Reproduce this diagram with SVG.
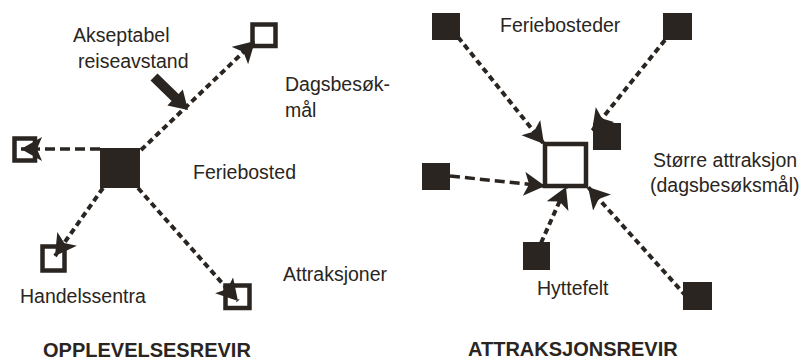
<svg xmlns="http://www.w3.org/2000/svg" width="807" height="362" viewBox="0 0 807 362">
<defs>
<style>
.t{font-family:"Liberation Sans",Arial,Helvetica,sans-serif;font-size:19.5px;fill:#2a2521}
.b{font-weight:bold;font-size:20px}
.open{fill:#fff;stroke:#2a2521;stroke-width:4.5}
.fill{fill:#2a2521}
.dash{fill:none;stroke:#2a2521;stroke-width:4;stroke-dasharray:6 4}
.dashh{fill:none;stroke:#2a2521;stroke-width:3.5;stroke-dasharray:10 5}
</style>
<marker id="ah" markerUnits="userSpaceOnUse" markerWidth="28" markerHeight="28" refX="21" refY="12" orient="auto">
<path d="M0,0 L21,12 L0,24 L5,12 z" fill="#2a2521"/>
</marker>
</defs>
<rect width="807" height="362" fill="#fff"/>

<g id="reiseavstand-arrow">
<polygon class="fill" points="157.5,73.4 178.6,93.9 182.8,89.6 188,110 167.4,105.4 171.6,101.1 150.5,80.6"/>
<text class="t" x="73" y="42">Akseptabel</text>
<text class="t" x="78" y="68">reiseavstand</text>
</g>

<g id="feriebosted">
<rect class="fill" x="100" y="148" width="40" height="40"/>
<text class="t" x="193" y="179">Feriebosted</text>
</g>
<g id="dagsbesoksmal">
<rect class="open" x="252.5" y="24.5" width="23" height="21.5"/>
<text class="t" x="285" y="91">Dagsbesøk-</text>
<text class="t" x="285" y="117">mål</text>
</g>
<g id="left-node">
<rect class="open" x="14.5" y="138.5" width="20.5" height="22"/>
</g>
<g id="handelssentra">
<rect class="open" x="42.5" y="246.5" width="22" height="24"/>
<text class="t" x="20" y="303">Handelssentra</text>
</g>
<g id="attraksjoner">
<rect class="open" x="225.5" y="285.5" width="24" height="22.5"/>
<text class="t" x="283" y="281">Attraksjoner</text>
</g>
<text class="t b" x="43" y="357">OPPLEVELSESREVIR</text>

<g id="ferie-tl"><rect class="fill" x="432" y="13" width="28" height="27"/></g>
<g id="ferie-tr"><rect class="fill" x="663" y="13" width="29" height="27"/></g>
<text class="t" x="500" y="32">Feriebosteder</text>
<g id="attraksjon">
<rect class="open" x="545" y="144" width="41" height="42" stroke-width="4.5"/>
<rect class="fill" x="593" y="123" width="28" height="27"/>
<text class="t" x="653" y="167">Større attraksjon</text>
<text class="t" x="650" y="192">(dagsbesøksmål)</text>
</g>
<g id="ferie-l"><rect class="fill" x="422" y="163" width="28" height="27"/></g>
<g id="hyttefelt">
<rect class="fill" x="523" y="242" width="27" height="28"/>
<text class="t" x="537" y="295">Hyttefelt</text>
</g>
<g id="ferie-br"><rect class="fill" x="683" y="282" width="29" height="28"/></g>
<text class="t b" x="468" y="356">ATTRAKSJONSREVIR</text>

<g id="connectors">
<line class="dash" x1="141" y1="150" x2="255" y2="41" marker-end="url(#ah)"/>
<line class="dashh" x1="100" y1="149" x2="21" y2="149" marker-end="url(#ah)"/>
<line class="dash" x1="103" y1="188" x2="55" y2="256" marker-end="url(#ah)"/>
<line class="dash" x1="138" y1="188" x2="238" y2="301" marker-end="url(#ah)"/>
<line class="dash" x1="458" y1="37" x2="544" y2="144" marker-end="url(#ah)"/>
<line class="dash" x1="665" y1="40" x2="592" y2="131" marker-end="url(#ah)"/>
<line class="dashh" x1="450" y1="176" x2="545" y2="186" marker-end="url(#ah)"/>
<line class="dash" x1="541" y1="243" x2="566" y2="187" marker-end="url(#ah)"/>
<line class="dash" x1="686" y1="296" x2="588" y2="187" marker-end="url(#ah)"/>
</g>
</svg>
